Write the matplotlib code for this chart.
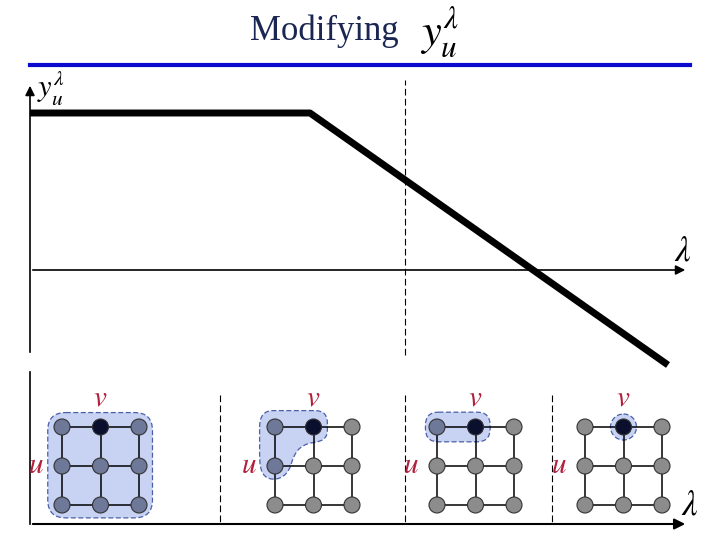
import matplotlib
matplotlib.use("Agg")
import matplotlib.pyplot as plt
from matplotlib.patches import FancyBboxPatch, PathPatch, Circle
from matplotlib.path import Path

plt.rcParams['mathtext.fontset'] = 'stix'
plt.rcParams['font.family'] = ['Liberation Serif', 'DejaVu Serif']

# curve y_u^lambda against lambda
lam = [0.0, 2.8, 6.38]
y_u = [1.57, 1.57, -0.95]
lam_mark = 3.75

# lower panel: four 3x3 graphs
panel_x0 = [62, 275, 437, 585]
node_step = 38.5
node_y0 = 427
grid_n = 3
v_node = (1, 0)
u_node = (0, 1)
# nodes inside the neighbourhood for each panel
members = [
    [(i, j) for i in range(3) for j in range(3)],
    [(0, 0), (1, 0), (0, 1)],
    [(0, 0), (1, 0)],
    [(1, 0)],
]
panel_sep = [220, 405, 552]

col_in = '#6e7898'
col_v = '#0b0f2e'
col_out = '#8c8c8c'
col_blob = '#c8d3f4'
col_blob_edge = '#4a5fa8'
col_label = '#b0203c'

fig = plt.figure(figsize=(7.2, 5.4), dpi=100)
bg = fig.add_axes([0, 0, 1, 1])
bg.set_xlim(0, 720)
bg.set_ylim(540, 0)
bg.axis('off')

# title
bg.text(324, 40, 'Modifying', ha='center', va='baseline', fontsize=25,
        color='#1b2752')
bg.text(420, 45, r'$y_u^\lambda$', ha='left', va='baseline', fontsize=32,
        color='black')
bg.plot([30, 690], [65, 65], color='#0a0acd', lw=3)

# upper chart
ax = fig.add_axes([30 / 720, 1 - 370 / 540, 660 / 720, 295 / 540])
ax.set_xlim(0, 6.6)
ax.set_ylim(-1.0, 1.95)
ax.axis('off')
ax.annotate('', xy=(0, 1.87), xytext=(0, -0.85),
            arrowprops=dict(arrowstyle='-|>', color='black', lw=1.2,
                            mutation_scale=14))
ax.annotate('', xy=(6.58, 0), xytext=(0, 0),
            arrowprops=dict(arrowstyle='-|>', color='black', lw=1.2,
                            mutation_scale=14))
ax.plot([lam_mark, lam_mark], [-0.85, 1.9], color='black', lw=0.8,
        ls=(0, (6, 3)))
ax.plot(lam, y_u, color='black', lw=5, clip_on=False, solid_capstyle='butt')
ax.text(0.07, 1.83, r'$y_u^\lambda$', fontsize=22, ha='left', va='center')
ax.text(6.53, 0.18, r'$\lambda$', fontsize=25, ha='center', va='center')

# lower panel axes
bg.plot([30, 30], [372, 524], color='black', lw=1.2)
bg.annotate('', xy=(688, 524), xytext=(30, 524),
            arrowprops=dict(arrowstyle='-|>', color='black', lw=1.5,
                            mutation_scale=16))
bg.text(690, 506, r'$\lambda$', fontsize=25, ha='center', va='center')
for xs in panel_sep:
    bg.plot([xs, xs], [395, 524], color='black', lw=0.8, ls=(0, (6, 3)))


def px(x0, i, j):
    return x0 + node_step * i, node_y0 + 39 * j


for k, x0 in enumerate(panel_x0):
    # neighbourhood blob
    if k == 0:
        a, b = px(x0, -0.37, -0.37)
        blob = FancyBboxPatch((a, b), node_step * 2.72, 39 * 2.7,
                              boxstyle='round,pad=0,rounding_size=18')
    elif k == 1:
        pts = [(-0.40, 0.0),
               (-0.40, -0.42), (-0.05, -0.42),
               (1.05, -0.42),
               (1.36, -0.42), (1.36, -0.1),
               (1.36, 0.1),
               (1.36, 0.36), (1.0, 0.4),
               (0.6, 0.45), (0.5, 0.7), (0.42, 0.95),
               (0.3, 1.36), (-0.05, 1.38), (-0.2, 1.3),
               (-0.40, 1.2), (-0.40, 0.9), (-0.40, 0.6),
               (-0.40, 0.0)]
        codes = [Path.MOVETO,
                 Path.CURVE3, Path.CURVE3,
                 Path.LINETO,
                 Path.CURVE3, Path.CURVE3,
                 Path.LINETO,
                 Path.CURVE3, Path.CURVE3,
                 Path.CURVE4, Path.CURVE4, Path.CURVE4,
                 Path.CURVE4, Path.CURVE4, Path.CURVE4,
                 Path.CURVE4, Path.CURVE4, Path.CURVE4,
                 Path.CLOSEPOLY]
        verts = [px(x0, p[0], p[1]) for p in pts]
        blob = PathPatch(Path(verts, codes))
    elif k == 2:
        a, b = px(x0, -0.3, -0.38)
        blob = FancyBboxPatch((a, b), node_step * 1.68, 39 * 0.76,
                              boxstyle='round,pad=0,rounding_size=13')
    else:
        blob = Circle(px(x0, 1, 0), 13)
    blob.set_facecolor(col_blob)
    blob.set_edgecolor(col_blob_edge)
    blob.set_linewidth(0.9)
    blob.set_linestyle((0, (4, 2)))
    blob.set_zorder(1)
    bg.add_patch(blob)

    # edges
    for j in range(grid_n):
        xa, ya = px(x0, 0, j)
        xb, yb = px(x0, grid_n - 1, j)
        bg.plot([xa, xb], [ya, yb], color='black', lw=1.1, zorder=2)
    for i in range(grid_n):
        xa, ya = px(x0, i, 0)
        xb, yb = px(x0, i, grid_n - 1)
        bg.plot([xa, xb], [ya, yb], color='black', lw=1.1, zorder=2)

    # nodes
    for i in range(grid_n):
        for j in range(grid_n):
            if (i, j) == v_node:
                c = col_v
            elif (i, j) in members[k]:
                c = col_in
            else:
                c = col_out
            cx, cy = px(x0, i, j)
            bg.add_patch(Circle((cx, cy), 8, facecolor=c, edgecolor='#333333',
                                lw=0.8, zorder=3))

    vx, vy = px(x0, v_node[0], v_node[1])
    bg.text(vx, vy - 28, r'$v$', fontsize=21, color=col_label,
            ha='center', va='center')
    ux, uy = px(x0, u_node[0], u_node[1])
    bg.text(ux - 26, uy, r'$u$', fontsize=21, color=col_label,
            ha='center', va='center')

fig.savefig('out.png', dpi=100)
